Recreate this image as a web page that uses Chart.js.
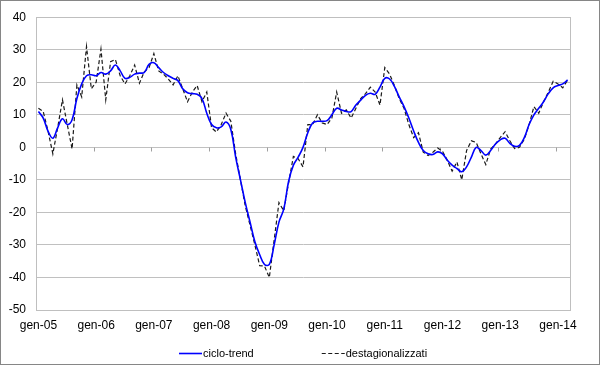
<!DOCTYPE html>
<html>
<head>
<meta charset="utf-8">
<script src="https://cdn.jsdelivr.net/npm/chart.js@4.4.1/dist/chart.umd.min.js"></script>
<style>
  html, body { margin: 0; padding: 0; background: #fff; }
</style>
</head>
<body>
<canvas id="chart" width="600" height="365"></canvas>
<script>
const months = ['gen', 'feb', 'mar', 'apr', 'mag', 'giu', 'lug', 'ago', 'set', 'ott', 'nov', 'dic'];
const years = ['05', '06', '07', '08', '09', '10', '11', '12', '13', '14'];
const monthsInLastYear = 3; // data stops at mar-14

const cicloTrend = [
  11, 9, 5, 2.8, 6, 8.8, 7, 8.5, 15, 19.5, 22, 22.3,            // 2005
  22, 23, 22.5, 23.5, 25.3, 23.5, 21.2, 21.5, 22.5, 22.8, 23, 25.5, // 2006
  26, 24.5, 23, 22, 21.2, 20.5, 18, 16.8, 16.5, 16.3, 15, 10.5,  // 2007
  7, 6, 6.3, 7.8, 5.5, -3, -10, -17, -23, -29, -33, -36,         // 2008
  -36, -30, -23, -19, -10.5, -5.5, -3, 0, 4.5, 7.5, 8, 8,        // 2009
  8.2, 10, 12, 11.5, 11, 11, 13, 14.5, 16, 16.6, 16.3, 18.5,     // 2010
  21.2, 21, 18.7, 15.5, 12.5, 9, 5, 1.5, -1, -2, -2.2, -1.4,     // 2011
  -2, -4, -5.5, -6.5, -7.5, -6, -3, 0, -1, -2.4, -1, 1,          // 2012
  2.3, 2.8, 1.2, 0.3, 0.6, 3, 7, 10, 12, 14, 16.5, 18.3,         // 2013
  19, 19.5, 20.7                                                 // 2014
];

const destagionalizzati = [
  12, 11, 5, -2, 6, 14.6, 7, -0.5, 19.2, 15.5, 31, 18,           // 2005
  20, 30.2, 14.6, 26.3, 27, 22, 19.5, 22, 25.3, 19.7, 23.2, 24.5, // 2006
  28.8, 23.5, 22.5, 21, 19.2, 22, 18, 14, 17, 19, 14, 17,        // 2007
  6, 4.7, 7, 10.5, 8, -2, -10, -18, -24, -30, -36.4, -36.5,      // 2008
  -40, -28.5, -17, -19.5, -11, -2.8, -3.5, -6, 7, 7, 10, 7.5,    // 2009
  7, 9, 17, 10.5, 11.5, 9, 12, 15, 16.5, 18.5, 17, 13,           // 2010
  24.5, 22.5, 19, 15, 12, 7, 3, 4.5, -1.5, -2.5, -1.5, -0.2,     // 2011
  -1.2, -4, -7.3, -4.5, -10, -1, 2, 1.5, -2, -5.3, -0.5, 1,      // 2012
  3, 4.8, 2, -0.4, 0, 2.5, 7, 12.5, 10.5, 14, 17, 20.3,          // 2013
  19.5, 18.3, 20.7                                               // 2014
];

const yTicks = { min: -50, max: 40, step: 10 };

const labels = [];
years.forEach((yy, yi) => {
    const count = yi === years.length - 1 ? monthsInLastYear : months.length;
    for (let m = 0; m < count; m++) {
        labels.push(months[m] + '-' + yy);
    }
});

const FONT = '"Liberation Sans", Arial, sans-serif';

// Excel-like extras: white background, outer frame, plot frame,
// small tick marks on the zero line and the legend under the chart
const excelExtras = {
    id: 'excelExtras',
    beforeDraw(chart) {
        const ctx = chart.ctx;
        ctx.save();
        ctx.fillStyle = '#ffffff';
        ctx.fillRect(0, 0, chart.width, chart.height);
        ctx.restore();
    },
    beforeDatasetsDraw(chart) {
        const ctx = chart.ctx;
        const area = chart.chartArea;
        const x = chart.scales.x;
        const y = chart.scales.y;
        ctx.save();
        ctx.strokeStyle = '#bfbfbf';
        ctx.lineWidth = 1;
        ctx.strokeRect(Math.round(area.left) + 0.5, Math.round(area.top) + 0.5,
            Math.round(area.right - area.left), Math.round(area.bottom - area.top));

        // tick marks every 12 categories on the zero line
        const y0 = Math.round(y.getPixelForValue(0)) + 0.5;
        ctx.strokeStyle = '#a0a0a0';
        ctx.beginPath();
        for (let i = 12; i < labels.length; i += 12) {
            const px = Math.round((x.getPixelForValue(i - 1) + x.getPixelForValue(i)) / 2) + 0.5;
            ctx.moveTo(px, y0);
            ctx.lineTo(px, y0 + 4);
        }
        ctx.stroke();
        ctx.restore();
    },
    afterDraw(chart) {
        const ctx = chart.ctx;
        ctx.save();
        ctx.strokeStyle = '#868686';
        ctx.lineWidth = 1;
        ctx.strokeRect(0.5, 0.5, chart.width - 1, chart.height - 1);

        // legend
        ctx.font = '11px ' + FONT;
        ctx.textBaseline = 'middle';
        const sampleW = 23;
        const itemGap = 68;
        const items = chart.data.datasets.map(ds => ({
            ds,
            w: sampleW + 1 + ctx.measureText(ds.label).width
        }));
        const total = items.reduce((s, it) => s + it.w, 0) + itemGap * (items.length - 1);
        let lx = Math.round(303 - total / 2);
        const ly = 353.5;
        items.forEach(it => {
            ctx.strokeStyle = it.ds.borderColor;
            ctx.lineWidth = it.ds.borderWidth;
            ctx.setLineDash(it.ds.borderDash || []);
            ctx.beginPath();
            ctx.moveTo(lx, ly);
            ctx.lineTo(lx + sampleW, ly);
            ctx.stroke();
            ctx.setLineDash([]);
            ctx.fillStyle = '#000';
            ctx.fillText(it.ds.label, lx + sampleW + 1, ly);
            lx += it.w + itemGap;
        });
        ctx.restore();
    }
};

const ctx = document.getElementById('chart').getContext('2d');
new Chart(ctx, {
    type: 'line',
    data: {
        labels: labels,
        datasets: [
            {
                label: 'ciclo-trend',
                data: cicloTrend,
                borderColor: '#0000ff',
                borderWidth: 1.6,
                fill: false,
                tension: 0.4,
                pointRadius: 0,
                order: 1
            },
            {
                label: 'destagionalizzati',
                data: destagionalizzati,
                borderColor: '#1a1a1a',
                borderWidth: 1.2,
                borderDash: [4, 2.5],
                fill: false,
                tension: 0,
                pointRadius: 0,
                order: 2
            }
        ]
    },
    options: {
        responsive: false,
        animation: false,
        layout: { padding: { left: 0, right: 30, top: 16, bottom: 0 } },
        plugins: {
            legend: { display: false },
            tooltip: { enabled: false }
        },
        scales: {
            x: {
                offset: true,
                grid: { display: false, drawTicks: false },
                border: { display: false },
                ticks: {
                    autoSkip: false,
                    maxRotation: 0,
                    minRotation: 0,
                    padding: 8,
                    color: '#000',
                    font: { family: FONT, size: 12 },
                    callback: (value, index) => index % 12 === 0 ? labels[index] : ''
                },
                afterFit: (scale) => { scale.height = 55; }
            },
            y: {
                min: yTicks.min,
                max: yTicks.max,
                grid: { color: '#c0c0c0', drawTicks: false },
                border: { display: true, color: '#bfbfbf' },
                ticks: {
                    stepSize: yTicks.step,
                    padding: 10,
                    color: '#000',
                    font: { family: FONT, size: 12 }
                },
                afterFit: (scale) => { scale.width = 36; }
            }
        }
    },
    plugins: [excelExtras]
});
</script>
</body>
</html>
